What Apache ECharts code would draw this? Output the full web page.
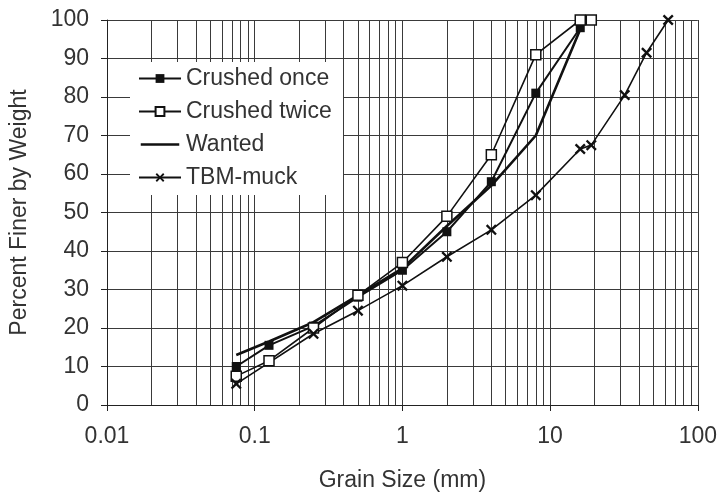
<!DOCTYPE html>
<html>
<head>
<meta charset="utf-8">
<script src="https://cdn.jsdelivr.net/npm/echarts@6/dist/echarts.min.js"></script>
<style>html,body{margin:0;padding:0;background:#fff}#c{width:720px;height:497px}</style>
</head>
<body>
<div id="c"></div>
<script>
// Data (grain size mm, percent finer)
const crushedOnce = [[0.075,10],[0.125,15.5],[0.25,20.5],[0.5,28],[1,35],[2,45],[4,58],[8,81],[16,98]];
const crushedTwice = [[0.075,7.5],[0.125,11.5],[0.25,20],[0.5,28.5],[1,37],[2,49],[4,65],[8,91],[16,100],[19,100]];
const wanted = [[0.075,13],[0.125,16.5],[0.25,21.5],[0.5,28.5],[1,35.5],[2,46.5],[4,57],[8,70],[17,100]];
const tbmMuck = [[0.075,5.5],[0.25,18.5],[0.5,24.5],[1,31],[2,38.5],[4,45.5],[8,54.5],[16,66.5],[19,67.5],[32,80.5],[45,91.5],[63,100]];
const seriesNames = ['Crushed once','Crushed twice','Wanted','TBM-muck'];
const decades = [0.01,0.1,1,10,100];
const minorMultipliers = [2,3,4,5,6,7,8,9];

const minorLines = [];
decades.slice(0,4).forEach(d => minorMultipliers.forEach(m => minorLines.push({xAxis: +(d*m).toPrecision(3)})));

const FONT = '"Liberation Sans", Arial, sans-serif';
const FS = 23;
const txt = '#333';
const gridColor = '#3a3a3a';
const xSym = 'path://M0,1.5 L1.5,0 L5,3.5 L8.5,0 L10,1.5 L6.5,5 L10,8.5 L8.5,10 L5,6.5 L1.5,10 L0,8.5 L3.5,5 Z';
// line-only legend icon: invisible corner points keep the box, a bar in the middle
const lineIcon = 'path://M0,0 L0.001,0 L0,0.001 Z M0,4.6 L42,4.6 L42,7.4 L0,7.4 Z M42,12 L41.999,12 L42,11.999 Z';

const chart = echarts.init(document.getElementById('c'));
chart.setOption({
  backgroundColor: '#fff',
  animation: false,
  grid: {left: 106, right: 20, top: 20, bottom: 92},
  graphic: [{
    type: 'rect', z: 50, silent: true,
    shape: {x: 130, y: 62, width: 213, height: 132},
    style: {fill: '#fff'}
  }],
  legend: {
    data: [
      {name: 'Crushed once'},
      {name: 'Crushed twice'},
      {name: 'Wanted', icon: lineIcon},
      {name: 'TBM-muck'}
    ],
    orient: 'vertical',
    left: 130, top: 62, z: 100,
    padding: [5, 10, 6, 8],
    backgroundColor: '#fff',
    itemWidth: 42, itemHeight: 11, itemGap: 10,
    textStyle: {fontFamily: FONT, fontSize: FS, color: txt, lineHeight: 23}
  },
  xAxis: {
    type: 'log', logBase: 10, min: 0.01, max: 100,
    name: 'Grain Size (mm)', nameLocation: 'middle', nameGap: 64,
    nameTextStyle: {fontFamily: FONT, fontSize: FS, color: txt},
    axisLine: {show: true, lineStyle: {color: '#222', width: 1}},
    axisTick: {show: true, length: 6, lineStyle: {color: '#222'}},
    axisLabel: {fontFamily: FONT, fontSize: FS, color: txt, margin: 20,
      formatter: v => { const r = decades.find(d => Math.abs(d - v) / d < 1e-6); return r !== undefined ? String(r) : ''; }},
    splitLine: {show: true, lineStyle: {color: gridColor, width: 1}}
  },
  yAxis: {
    type: 'value', min: 0, max: 100, interval: 10,
    name: 'Percent Finer by Weight', nameLocation: 'middle', nameGap: 76,
    nameTextStyle: {fontFamily: FONT, fontSize: FS, color: txt},
    axisLine: {show: true, lineStyle: {color: '#222', width: 1}},
    axisTick: {show: true, length: 6, lineStyle: {color: '#222'}},
    axisLabel: {fontFamily: FONT, fontSize: FS, color: txt, margin: 18},
    splitLine: {show: true, lineStyle: {color: gridColor, width: 1}}
  },
  series: [
    {
      name: 'grid-minor', type: 'line', data: [], z: 1, silent: true,
      markLine: {silent: true, symbol: ['none','none'], label: {show: false}, z: 1,
        lineStyle: {color: gridColor, type: 'solid', width: 1}, emphasis: {disabled: true},
        data: minorLines}
    },
    {
      name: 'Crushed once', type: 'line', data: crushedOnce, z: 3,
      symbol: 'rect', symbolSize: 9, showAllSymbol: true,
      lineStyle: {color: '#111', width: 2},
      itemStyle: {color: '#111'}
    },
    {
      name: 'Crushed twice', type: 'line', data: crushedTwice, z: 3,
      symbol: 'rect', symbolSize: 10, showAllSymbol: true,
      lineStyle: {color: '#111', width: 1.6},
      itemStyle: {color: '#fff', borderColor: '#111', borderWidth: 1.5}
    },
    {
      name: 'Wanted', type: 'line', data: wanted, z: 3,
      symbol: 'none',
      lineStyle: {color: '#111', width: 2.6},
      itemStyle: {color: '#111'}
    },
    {
      name: 'TBM-muck', type: 'line', data: tbmMuck, z: 3,
      symbol: xSym, symbolSize: 11, showAllSymbol: true,
      lineStyle: {color: '#111', width: 1.6},
      itemStyle: {color: '#111'}
    }
  ]
});
</script>
</body>
</html>
